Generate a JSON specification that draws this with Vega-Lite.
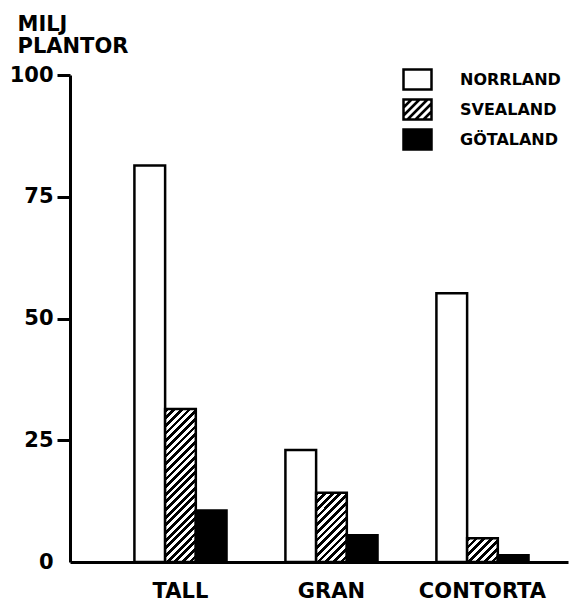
{
 "$schema": "https://vega.github.io/schema/vega-lite/v6.json",
 "width": 498, "height": 487,
 "autosize": "none",
 "padding": {"left": 70, "top": 75, "right": 3, "bottom": 39},
 "background": "white",
 "config": {"view": {"stroke": null}, "font": "DejaVu Sans"},
 "data": {"values": [
  {"tree": "TALL", "region": "NORRLAND", "value": 81.4},
  {"tree": "TALL", "region": "SVEALAND", "value": 31.4},
  {"tree": "TALL", "region": "GÖTALAND", "value": 10.6},
  {"tree": "GRAN", "region": "NORRLAND", "value": 23.0},
  {"tree": "GRAN", "region": "SVEALAND", "value": 14.2},
  {"tree": "GRAN", "region": "GÖTALAND", "value": 5.5},
  {"tree": "CONTORTA", "region": "NORRLAND", "value": 55.2},
  {"tree": "CONTORTA", "region": "SVEALAND", "value": 4.9},
  {"tree": "CONTORTA", "region": "GÖTALAND", "value": 1.4}
 ]},
 "mark": {"type": "bar", "stroke": "black", "strokeWidth": 2.5},
 "encoding": {
  "x": {"field": "tree", "type": "nominal", "sort": ["TALL", "GRAN", "CONTORTA"],
   "scale": {"paddingInner": 0.39, "paddingOuter": 0.344, "align": 0.62},
   "axis": {"title": null, "labelAngle": 0, "ticks": false, "domainWidth": 3, "domainColor": "black", "labelFontSize": 21, "labelFontWeight": "bold", "labelColor": "black", "labelPadding": 18, "labelBaseline": "top"}},
  "xOffset": {"field": "region", "type": "nominal", "sort": ["NORRLAND", "SVEALAND", "GÖTALAND"], "scale": {"paddingInner": 0, "paddingOuter": 0}},
  "y": {"field": "value", "type": "quantitative", "scale": {"domain": [0, 100], "nice": false},
   "axis": {"values": [0, 25, 50, 75, 100], "title": ["MILJ", "PLANTOR"], "titleAngle": 0, "titleAlign": "left", "titleBaseline": "top", "titleX": -53, "titleY": -62, "titleFontSize": 21, "titleFontWeight": "bold", "titleLineHeight": 22, "titleColor": "black", "grid": false, "domainWidth": 3, "domainColor": "black", "tickWidth": 3, "tickColor": "black", "tickSize": 13, "labelFontSize": 21, "labelFontWeight": "bold", "labelColor": "black", "labelPadding": 4, "tickOpacity": {"condition": {"test": "datum.value === 0", "value": 0}, "value": 1}}},
  "fill": {
   "condition": [
    {"test": "datum.region === 'SVEALAND' && datum.tree === 'TALL'", "value": {"gradient": "linear", "x1": 0, "y1": 0, "x2": 0.2318, "y2": 1.154, "stops": [
     {"offset": 0, "color": "black"},
     {"offset": 0.02083, "color": "black"}, {"offset": 0.02083, "color": "white"},
     {"offset": 0.04167, "color": "white"}, {"offset": 0.04167, "color": "black"},
     {"offset": 0.0625, "color": "black"}, {"offset": 0.0625, "color": "white"},
     {"offset": 0.08333, "color": "white"}, {"offset": 0.08333, "color": "black"},
     {"offset": 0.10417, "color": "black"}, {"offset": 0.10417, "color": "white"},
     {"offset": 0.125, "color": "white"}, {"offset": 0.125, "color": "black"},
     {"offset": 0.14583, "color": "black"}, {"offset": 0.14583, "color": "white"},
     {"offset": 0.16667, "color": "white"}, {"offset": 0.16667, "color": "black"},
     {"offset": 0.1875, "color": "black"}, {"offset": 0.1875, "color": "white"},
     {"offset": 0.20833, "color": "white"}, {"offset": 0.20833, "color": "black"},
     {"offset": 0.22917, "color": "black"}, {"offset": 0.22917, "color": "white"},
     {"offset": 0.25, "color": "white"}, {"offset": 0.25, "color": "black"},
     {"offset": 0.27083, "color": "black"}, {"offset": 0.27083, "color": "white"},
     {"offset": 0.29167, "color": "white"}, {"offset": 0.29167, "color": "black"},
     {"offset": 0.3125, "color": "black"}, {"offset": 0.3125, "color": "white"},
     {"offset": 0.33333, "color": "white"}, {"offset": 0.33333, "color": "black"},
     {"offset": 0.35417, "color": "black"}, {"offset": 0.35417, "color": "white"},
     {"offset": 0.375, "color": "white"}, {"offset": 0.375, "color": "black"},
     {"offset": 0.39583, "color": "black"}, {"offset": 0.39583, "color": "white"},
     {"offset": 0.41667, "color": "white"}, {"offset": 0.41667, "color": "black"},
     {"offset": 0.4375, "color": "black"}, {"offset": 0.4375, "color": "white"},
     {"offset": 0.45833, "color": "white"}, {"offset": 0.45833, "color": "black"},
     {"offset": 0.47917, "color": "black"}, {"offset": 0.47917, "color": "white"},
     {"offset": 0.5, "color": "white"}, {"offset": 0.5, "color": "black"},
     {"offset": 0.52083, "color": "black"}, {"offset": 0.52083, "color": "white"},
     {"offset": 0.54167, "color": "white"}, {"offset": 0.54167, "color": "black"},
     {"offset": 0.5625, "color": "black"}, {"offset": 0.5625, "color": "white"},
     {"offset": 0.58333, "color": "white"}, {"offset": 0.58333, "color": "black"},
     {"offset": 0.60417, "color": "black"}, {"offset": 0.60417, "color": "white"},
     {"offset": 0.625, "color": "white"}, {"offset": 0.625, "color": "black"},
     {"offset": 0.64583, "color": "black"}, {"offset": 0.64583, "color": "white"},
     {"offset": 0.66667, "color": "white"}, {"offset": 0.66667, "color": "black"},
     {"offset": 0.6875, "color": "black"}, {"offset": 0.6875, "color": "white"},
     {"offset": 0.70833, "color": "white"}, {"offset": 0.70833, "color": "black"},
     {"offset": 0.72917, "color": "black"}, {"offset": 0.72917, "color": "white"},
     {"offset": 0.75, "color": "white"}, {"offset": 0.75, "color": "black"},
     {"offset": 0.77083, "color": "black"}, {"offset": 0.77083, "color": "white"},
     {"offset": 0.79167, "color": "white"}, {"offset": 0.79167, "color": "black"},
     {"offset": 0.8125, "color": "black"}, {"offset": 0.8125, "color": "white"},
     {"offset": 0.83333, "color": "white"}, {"offset": 0.83333, "color": "black"},
     {"offset": 0.85417, "color": "black"}, {"offset": 0.85417, "color": "white"},
     {"offset": 0.875, "color": "white"}, {"offset": 0.875, "color": "black"},
     {"offset": 0.89583, "color": "black"}, {"offset": 0.89583, "color": "white"},
     {"offset": 0.91667, "color": "white"}, {"offset": 0.91667, "color": "black"},
     {"offset": 0.9375, "color": "black"}, {"offset": 0.9375, "color": "white"},
     {"offset": 0.95833, "color": "white"}, {"offset": 0.95833, "color": "black"},
     {"offset": 0.97917, "color": "black"}, {"offset": 0.97917, "color": "white"},
     {"offset": 1, "color": "white"}
    ]}},
    {"test": "datum.region === 'SVEALAND' && datum.tree === 'GRAN'", "value": {"gradient": "linear", "x1": 0, "y1": 0, "x2": 0.5366, "y2": 1.206, "stops": [
     {"offset": 0, "color": "black"},
     {"offset": 0.03846, "color": "black"}, {"offset": 0.03846, "color": "white"},
     {"offset": 0.07692, "color": "white"}, {"offset": 0.07692, "color": "black"},
     {"offset": 0.11538, "color": "black"}, {"offset": 0.11538, "color": "white"},
     {"offset": 0.15385, "color": "white"}, {"offset": 0.15385, "color": "black"},
     {"offset": 0.19231, "color": "black"}, {"offset": 0.19231, "color": "white"},
     {"offset": 0.23077, "color": "white"}, {"offset": 0.23077, "color": "black"},
     {"offset": 0.26923, "color": "black"}, {"offset": 0.26923, "color": "white"},
     {"offset": 0.30769, "color": "white"}, {"offset": 0.30769, "color": "black"},
     {"offset": 0.34615, "color": "black"}, {"offset": 0.34615, "color": "white"},
     {"offset": 0.38462, "color": "white"}, {"offset": 0.38462, "color": "black"},
     {"offset": 0.42308, "color": "black"}, {"offset": 0.42308, "color": "white"},
     {"offset": 0.46154, "color": "white"}, {"offset": 0.46154, "color": "black"},
     {"offset": 0.5, "color": "black"}, {"offset": 0.5, "color": "white"},
     {"offset": 0.53846, "color": "white"}, {"offset": 0.53846, "color": "black"},
     {"offset": 0.57692, "color": "black"}, {"offset": 0.57692, "color": "white"},
     {"offset": 0.61538, "color": "white"}, {"offset": 0.61538, "color": "black"},
     {"offset": 0.65385, "color": "black"}, {"offset": 0.65385, "color": "white"},
     {"offset": 0.69231, "color": "white"}, {"offset": 0.69231, "color": "black"},
     {"offset": 0.73077, "color": "black"}, {"offset": 0.73077, "color": "white"},
     {"offset": 0.76923, "color": "white"}, {"offset": 0.76923, "color": "black"},
     {"offset": 0.80769, "color": "black"}, {"offset": 0.80769, "color": "white"},
     {"offset": 0.84615, "color": "white"}, {"offset": 0.84615, "color": "black"},
     {"offset": 0.88462, "color": "black"}, {"offset": 0.88462, "color": "white"},
     {"offset": 0.92308, "color": "white"}, {"offset": 0.92308, "color": "black"},
     {"offset": 0.96154, "color": "black"}, {"offset": 0.96154, "color": "white"},
     {"offset": 1, "color": "white"}
    ]}},
    {"test": "datum.region === 'SVEALAND' && datum.tree === 'CONTORTA'", "value": {"gradient": "linear", "x1": 0, "y1": 0, "x2": 1.106, "y2": 0.865, "stops": [
     {"offset": 0, "color": "black"},
     {"offset": 0.07143, "color": "black"}, {"offset": 0.07143, "color": "white"},
     {"offset": 0.14286, "color": "white"}, {"offset": 0.14286, "color": "black"},
     {"offset": 0.21429, "color": "black"}, {"offset": 0.21429, "color": "white"},
     {"offset": 0.28571, "color": "white"}, {"offset": 0.28571, "color": "black"},
     {"offset": 0.35714, "color": "black"}, {"offset": 0.35714, "color": "white"},
     {"offset": 0.42857, "color": "white"}, {"offset": 0.42857, "color": "black"},
     {"offset": 0.5, "color": "black"}, {"offset": 0.5, "color": "white"},
     {"offset": 0.57143, "color": "white"}, {"offset": 0.57143, "color": "black"},
     {"offset": 0.64286, "color": "black"}, {"offset": 0.64286, "color": "white"},
     {"offset": 0.71429, "color": "white"}, {"offset": 0.71429, "color": "black"},
     {"offset": 0.78571, "color": "black"}, {"offset": 0.78571, "color": "white"},
     {"offset": 0.85714, "color": "white"}, {"offset": 0.85714, "color": "black"},
     {"offset": 0.92857, "color": "black"}, {"offset": 0.92857, "color": "white"},
     {"offset": 1, "color": "white"}
    ]}}
   ],
   "field": "region", "type": "nominal",
   "scale": {"domain": ["NORRLAND", "SVEALAND", "GÖTALAND"], "range": ["white", "white", "black"]},
   "legend": {"title": null, "orient": "none", "legendX": 336, "legendY": -7, "padding": 0,
    "symbolType": {"expr": "datum.value === 'SVEALAND' ? 'M-1.4,-1L1.4,-1L1.4,1L-1.4,1Z M-1.4,-0.2L-0.6,-1 M-1.4,0.6L0.2,-1 M-1,1L1,-1 M-0.2,1L1.4,-0.6 M0.6,1L1.4,0.2' : 'M-1.4,-1L1.4,-1L1.4,1L-1.4,1Z'"},
    "symbolSize": 400,
    "symbolStrokeColor": "black", "symbolStrokeWidth": 2.5,
    "labelFontSize": 16, "labelFontWeight": "bold", "labelColor": "black", "labelOffset": 31, "rowPadding": -1}
  }
 }
}
